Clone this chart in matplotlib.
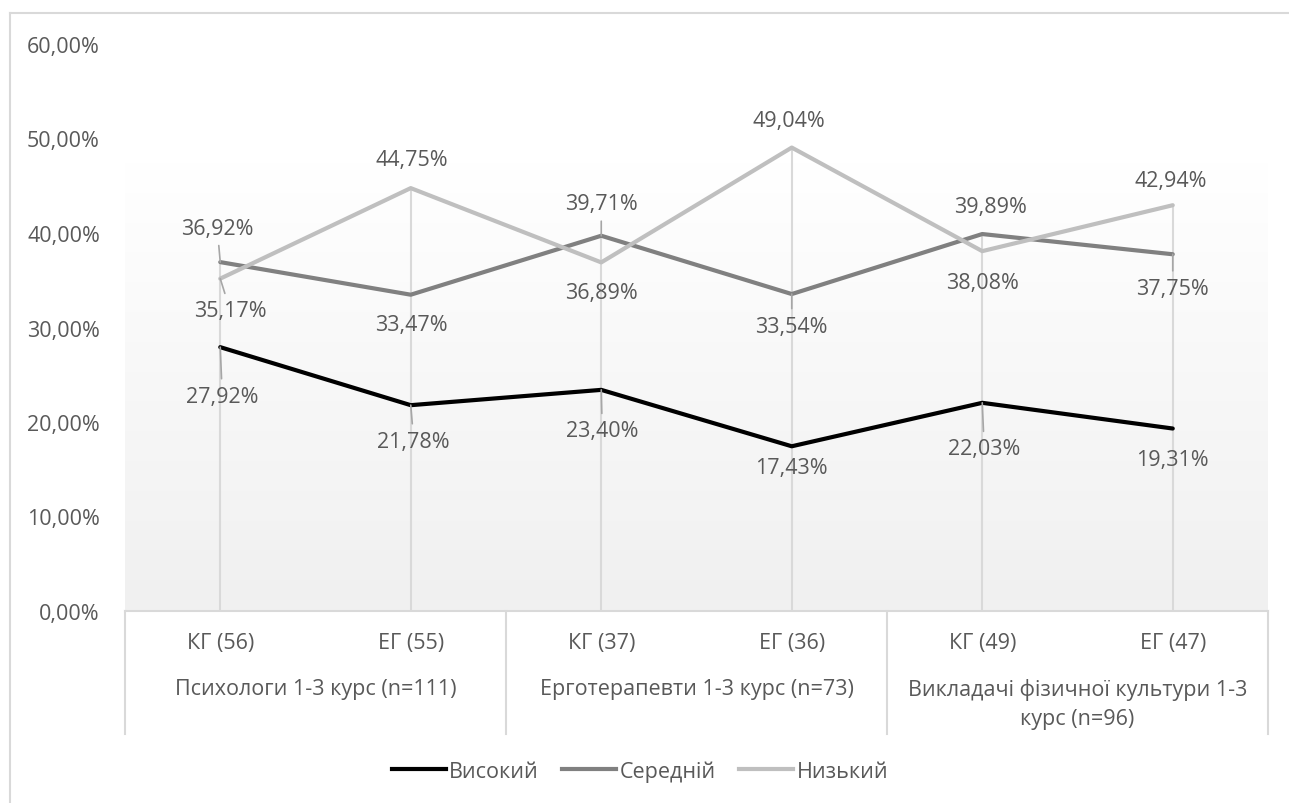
import matplotlib.pyplot as plt
import numpy as np
from matplotlib.lines import Line2D
from matplotlib.colors import LinearSegmentedColormap

plt.rcParams['font.family'] = ['Open Sans', 'DejaVu Sans']

# data
KATEGORIEN = ['КГ (56)', 'ЕГ (55)', 'КГ (37)', 'ЕГ (36)', 'КГ (49)', 'ЕГ (47)']
GRUPPEN = ['Психологи 1-3 курс (n=111)', 'Ерготерапевти 1-3 курс (n=73)',
           'Викладачі фізичної культури 1-3\nкурс (n=96)']
SERIEN = ['Високий', 'Середній', 'Низький']
VYSOKYI = [27.92, 21.78, 23.40, 17.43, 22.03, 19.31]
SEREDNII = [36.92, 33.47, 39.71, 33.54, 39.89, 37.75]
NYZKYI = [35.17, 44.75, 36.89, 49.04, 38.08, 42.94]

# style
FARBEN = ['#000000', '#808080', '#bfbfbf']
TXT = '#595959'
GRAU = '#d9d9d9'
FS = 15.5
# label offsets in pixels (dx, dy downwards) and leader line flag
OFFS = [
    [(2, 49), (3, 36), (1, 41), (0, 21), (2, 46), (0, 31)],
    [(-3, -34), (1, 30), (0, -32), (0, 32), (8, -28), (0, 34)],
    [(10, 32), (1, -29), (0, 30), (-3, -27), (0, 31), (-2, -25)],
]
LEADER = [
    [1, 1, 1, 0, 1, 0],
    [1, 0, 1, 1, 0, 1],
    [1, 0, 0, 0, 0, 0],
]

fig = plt.figure(figsize=(12.89, 8.04), dpi=100)
W, H = 1289, 804
ax = fig.add_axes([125 / W, (H - 612) / H, (1268 - 125) / W, (612 - 45) / H])

x = np.arange(len(KATEGORIEN))
daten = [VYSOKYI, SEREDNII, NYZKYI]

ax.set_xlim(-0.5, 5.5)
ax.set_ylim(0, 0.6)

# Hintergrund mit Verlauf (wie in Excel)
grad = np.linspace(0, 1, 256).reshape(-1, 1)
cmap = LinearSegmentedColormap.from_list('g', ['#f0f0f0', '#ffffff'])
ax.imshow(grad, cmap=cmap, extent=[-0.5, 5.5, 0, 0.475], origin='lower',
          aspect='auto', zorder=0)

# Lotlinien
oben = np.max(np.array(daten), axis=0) / 100
ax.vlines(x, 0, oben, color=GRAU, lw=1.5, zorder=1)

for s in range(3):
    werte = np.array(daten[s]) / 100
    ax.plot(x, werte, color=FARBEN[s], lw=3, zorder=3, solid_capstyle='round')
    for i, v in enumerate(daten[s]):
        dx, dy = OFFS[s][i]
        ap = None
        if LEADER[s][i]:
            ap = dict(arrowstyle='-', color='#a6a6a6', lw=1.2, shrinkA=3, shrinkB=0)
        ax.annotate(f'{v:.2f}%'.replace('.', ','), xy=(i, v / 100),
                    xytext=(dx * 0.72, -dy * 0.72), textcoords='offset points',
                    ha='center', va='center', fontsize=FS, color=TXT,
                    arrowprops=ap, zorder=5)

# Achsen
for sp in ['top', 'right', 'left']:
    ax.spines[sp].set_visible(False)
ax.spines['bottom'].set_color(GRAU)
ax.spines['bottom'].set_linewidth(1.5)
ax.set_yticks([0, 0.1, 0.2, 0.3, 0.4, 0.5, 0.6])
ax.set_yticklabels([f'{t},00%' for t in range(0, 70, 10)])
ax.tick_params(axis='y', length=0, pad=18, labelsize=FS, labelcolor=TXT)
ax.set_xticks(x, labels=KATEGORIEN)
ax.tick_params(axis='x', length=0, pad=15, labelsize=FS, labelcolor=TXT)

# Gruppen
tr = ax.get_xaxis_transform()
for xs in [-0.5, 1.5, 3.5, 5.5]:
    ax.plot([xs, xs], [0, -123 / 567], color=GRAU, lw=1.5, transform=tr, clip_on=False)
for g, name in enumerate(GRUPPEN):
    ax.text(2 * g + 0.5, -67 / 567, name, transform=tr, ha='center', va='top',
            fontsize=FS, color=TXT, linespacing=1.5)

# Rahmen
fig.add_artist(Line2D([10 / W, 10 / W], [0, 1 - 14 / H], color=GRAU, lw=1.5))
fig.add_artist(Line2D([10 / W, 1], [1 - 14 / H, 1 - 14 / H], color=GRAU, lw=1.5))

# Legende
handles = [Line2D([], [], color=FARBEN[s], lw=3) for s in range(3)]
fig.legend(handles, SERIEN, loc='center', bbox_to_anchor=(640 / W, 1 - 772 / H), ncol=3,
           frameon=False, fontsize=FS, handlelength=2.5, handletextpad=0.15,
           columnspacing=1.1, labelcolor=TXT)

plt.savefig('out.png', dpi=100)
